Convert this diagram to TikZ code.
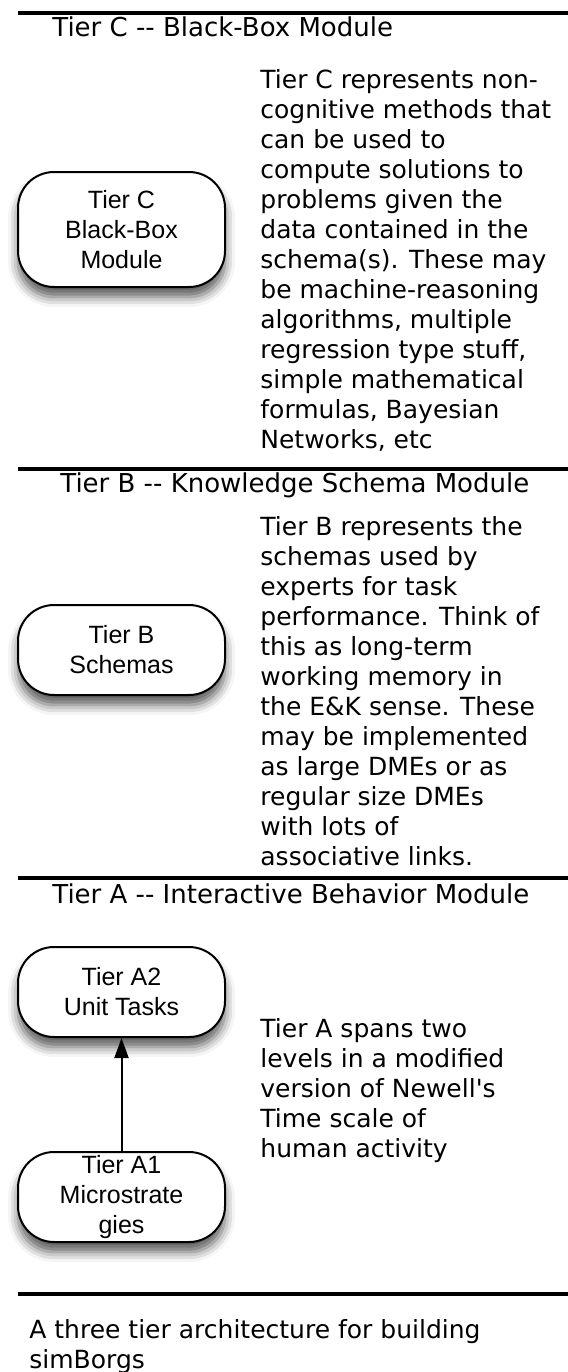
\documentclass[tikz,border=0pt]{standalone}
\usepackage{fontspec}
\setmainfont{DejaVu Sans}[Ligatures=TeXOff]
\newfontfamily\boxfont{Liberation Sans}
\usepackage{tikz}
\usetikzlibrary{arrows.meta,shadows.blur}
\tikzstyle{tier} = [rectangle, draw, line width=1pt, fill=white, rounded corners=18pt, minimum width=103.5pt, minimum height=45pt, inner sep=0pt, align=center, font=\boxfont\fontsize{12.5}{15}\selectfont, blur shadow={shadow xshift=0pt, shadow yshift=-5pt, shadow blur radius=5pt, shadow opacity=65}]
\tikzstyle{head} = [anchor=base west, inner sep=0pt, font=\fontsize{13}{15}\selectfont]
\tikzstyle{note} = [anchor=base west, inner sep=0pt, align=left, font=\fontsize{12.5}{15}\selectfont]
\tikzstyle{rule} = [draw, line width=2pt]
\tikzstyle{line} = [draw, line width=1pt, -{Triangle[length=10pt,width=7pt]}]
\begin{document}
\begin{tikzpicture}[x=0.5pt,y=-0.5pt]
\useasboundingbox (0,0) rectangle (568,1372);
\path [rule] (18,13) -- (568,13);
\path [rule] (18,469) -- (568,469);
\path [rule] (18,878) -- (568,878);
\path [rule] (18,1294) -- (568,1294);
% tier C (notes are placed by their last baseline)
\node [head] (headC) at (52,36) {Tier C -{}- Black-Box Module};
\node [tier, minimum height=57.5pt] (tierC) at (121.5,229.5) {Tier C\\Black-Box\\Module};
\node [note] (noteC) at (260,448) {Tier C represents non-\\cognitive methods that\\can be used to\\compute solutions to\\problems given the\\data contained in the\\schema(s). These may\\be machine-reasoning\\algorithms, multiple\\regression type stuff,\\simple mathematical\\formulas, Bayesian\\Networks, etc};
% tier B
\node [head] (headB) at (60,492) {Tier B -{}- Knowledge Schema Module};
\node [tier] (tierB) at (121.5,650) {Tier B\\Schemas};
\node [note] (noteB) at (260,865) {Tier B represents the\\schemas used by\\experts for task\\performance. Think of\\this as long-term\\working memory in\\the E\&K sense. These\\may be implemented\\as large DMEs or as\\regular size DMEs\\with lots of\\associative links.};
% tier A
\node [head] (headA) at (52,903) {Tier A -{}- Interactive Behavior Module};
\node [tier] (tierA2) at (121.5,992) {Tier A2\\Unit Tasks};
\node [tier] (tierA1) at (121.5,1197) {Tier A1\\Microstrate\\gies};
\node [note] (noteA) at (260,1157) {Tier A spans two\\levels in a modified\\version of Newell's\\Time scale of\\human activity};
\path [line] (tierA1) -- (tierA2);
\node [note] (caption) at (29,1368) {A three tier architecture for building\\simBorgs};
\end{tikzpicture}
\end{document}
